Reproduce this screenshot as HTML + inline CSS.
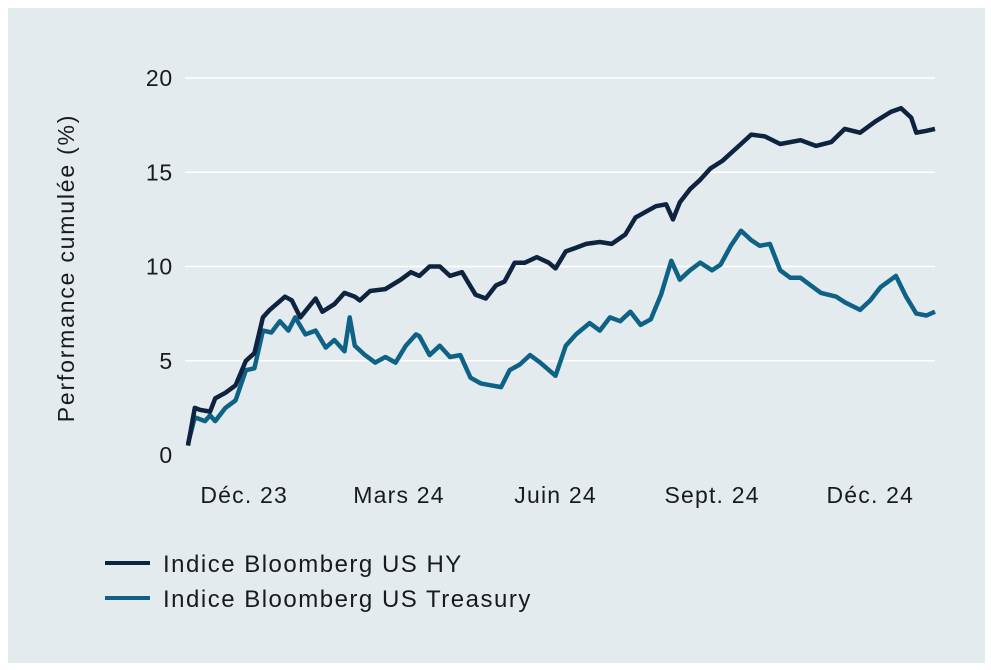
<!DOCTYPE html>
<html><head><meta charset="utf-8"><style>
html,body{margin:0;padding:0;background:#fff;}
svg{display:block;font-family:"Liberation Sans",sans-serif;}
</style></head><body>
<svg id="chart" width="991" height="670">
<rect x="8" y="8" width="977" height="655" fill="#e4ebef"/>
<g id="grid"></g>
<g id="yticks" font-size="23" fill="#1a1a1a" text-anchor="end" letter-spacing="0.8"></g>
<g id="xticks" font-size="23" fill="#1a1a1a" text-anchor="middle" letter-spacing="1.2"></g>
<text x="74" y="268" transform="rotate(-90 74 268)" font-size="23" letter-spacing="1.8" fill="#1a1a1a" text-anchor="middle">Performance cumulée (%)</text>
<g id="series"></g>
<g>
<line x1="105" y1="563" x2="150" y2="563" stroke="#0d2340" stroke-width="4"/>
<text x="163" y="572" font-size="24" letter-spacing="1.5" fill="#1a1a1a">Indice Bloomberg US HY</text>
<line x1="105" y1="598" x2="150" y2="598" stroke="#0e6285" stroke-width="4"/>
<text x="163" y="607" font-size="24" letter-spacing="1.5" fill="#1a1a1a">Indice Bloomberg US Treasury</text>
</g>
</svg>
<script>
const yTicks=[0,5,10,15,20];
const xTickLabels=["Déc. 23","Mars 24","Juin 24","Sept. 24","Déc. 24"];
const xTickDays=[33,124,216,308,401];
const hyDays=[0,4,7,13,16,22,28,34,39,44,48,57,61,66,75,79,86,92,98,101,107,116,125,131,136,142,148,154,161,169,175,181,186,192,198,205,212,216,222,228,234,242,249,257,263,269,275,281,285,289,295,301,307,314,325,331,339,348,360,369,378,386,395,404,413,419,425,428,434,439];
const hyValues=[0.5,2.5,2.4,2.3,3.0,3.3,3.7,5.0,5.4,7.3,7.7,8.4,8.2,7.3,8.3,7.6,8.0,8.6,8.4,8.2,8.7,8.8,9.3,9.7,9.5,10.0,10.0,9.5,9.7,8.5,8.3,9.0,9.2,10.2,10.2,10.5,10.2,9.9,10.8,11.0,11.2,11.3,11.2,11.7,12.6,12.9,13.2,13.3,12.5,13.4,14.1,14.6,15.2,15.6,16.5,17.0,16.9,16.5,16.7,16.4,16.6,17.3,17.1,17.7,18.2,18.4,17.9,17.1,17.2,17.3];
const tsyDays=[0,4,10,13,16,22,28,34,39,44,49,54,59,63,69,75,81,86,92,95,98,104,110,116,122,128,134,136,142,148,154,160,166,172,178,184,189,195,201,207,216,222,228,236,242,248,254,260,266,272,278,284,289,295,301,308,313,319,325,331,336,342,348,354,360,366,372,381,386,395,401,407,413,416,422,428,434,439];
const tsyValues=[0.6,2.0,1.8,2.1,1.8,2.5,2.9,4.5,4.6,6.6,6.5,7.1,6.6,7.3,6.4,6.6,5.7,6.1,5.5,7.3,5.8,5.3,4.9,5.2,4.9,5.8,6.4,6.3,5.3,5.8,5.2,5.3,4.1,3.8,3.7,3.6,4.5,4.8,5.3,4.9,4.2,5.8,6.4,7.0,6.6,7.3,7.1,7.6,6.9,7.2,8.5,10.3,9.3,9.8,10.2,9.8,10.1,11.1,11.9,11.4,11.1,11.2,9.8,9.4,9.4,9.0,8.6,8.4,8.1,7.7,8.2,8.9,9.3,9.5,8.4,7.5,7.4,7.6];

const NS="http://www.w3.org/2000/svg";
function xs(d){return 188+d*(935-188)/439;}
function ys(v){return 455-v*(455-78)/20;}
function mk(t,a){const e=document.createElementNS(NS,t);for(const k in a)e.setAttribute(k,a[k]);return e;}
const grid=document.getElementById('grid'),yt=document.getElementById('yticks'),xt=document.getElementById('xticks'),ser=document.getElementById('series');
yTicks.forEach(v=>{
  if(v>0){const l=mk('line',{x1:185,x2:935,y1:ys(v),y2:ys(v),stroke:'#ffffff','stroke-width':1.5});
  
  
  grid.appendChild(l);}
  const t=mk('text',{x:173,y:ys(v)+8});t.textContent=v;
  
  
  yt.appendChild(t);
});
xTickLabels.forEach((s,i)=>{
  const t=mk('text',{x:xs(xTickDays[i]),y:503});t.textContent=s;
  
  
  xt.appendChild(t);
});
function line(days,vals,color,name){
  const d=days.map((x,i)=>(i?'L':'M')+xs(x).toFixed(1)+','+ys(vals[i]).toFixed(1)).join('');
  const p=mk('path',{d:d,fill:'none',stroke:color,'stroke-width':4.5,'stroke-linejoin':'round'});
  
  
  ser.appendChild(p);
}
line(tsyDays,tsyValues,'#0e6285','treasury-line');
line(hyDays,hyValues,'#0d2340','hy-line');
</script>
</body></html>
